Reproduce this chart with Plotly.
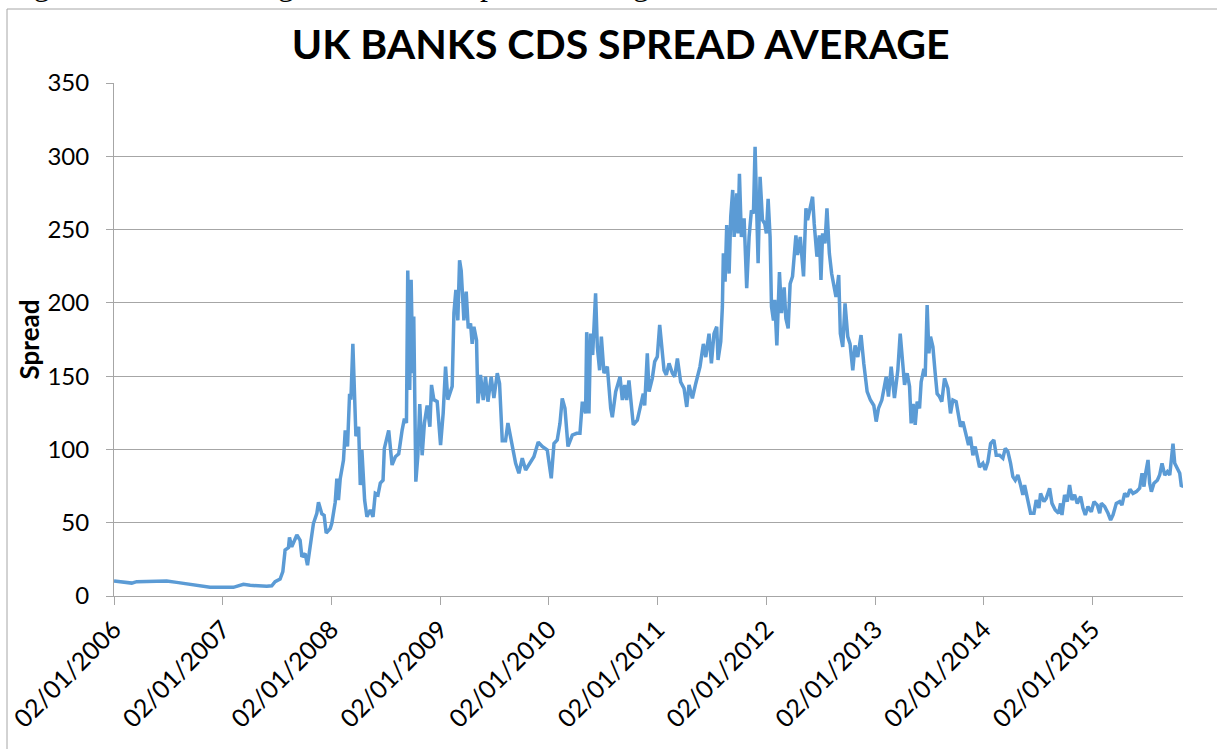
import pandas as pd
import plotly.graph_objects as go

# ---- data (decimal years measured from 2 Jan, CDS spread in bp) ----
years_2006_2009 = [
    2006.000, 2006.163, 2006.209, 2006.485, 2006.577, 2006.700, 2006.792, 2006.884, 2007.099, 2007.191,
    2007.253, 2007.406, 2007.452, 2007.483, 2007.529, 2007.554, 2007.575, 2007.606, 2007.615, 2007.636,
    2007.683, 2007.713, 2007.729, 2007.759, 2007.781, 2007.799, 2007.836, 2007.867, 2007.882, 2007.913,
    2007.934, 2007.953, 2007.990, 2008.005, 2008.036, 2008.051, 2008.066, 2008.082, 2008.112, 2008.128,
    2008.149, 2008.168, 2008.180, 2008.198, 2008.211, 2008.226, 2008.251, 2008.266, 2008.281, 2008.306,
    2008.327, 2008.358, 2008.383, 2008.404, 2008.429, 2008.450, 2008.475, 2008.487, 2008.527, 2008.542,
    2008.558, 2008.588, 2008.619, 2008.650, 2008.671, 2008.690, 2008.702, 2008.720, 2008.733, 2008.748,
    2008.757, 2008.776, 2008.794, 2008.812, 2008.834, 2008.855, 2008.880, 2008.905, 2008.920, 2008.941,
    2008.972, 2009.003, 2009.027, 2009.049, 2009.070, 2009.110, 2009.126, 2009.144, 2009.162, 2009.178,
    2009.193, 2009.218, 2009.239, 2009.258, 2009.279, 2009.294, 2009.310, 2009.334, 2009.347, 2009.371,
    2009.396, 2009.417, 2009.439, 2009.469, 2009.494, 2009.525, 2009.546,
]
spread_2006_2009 = [
    10.2, 8.8, 9.8, 10.2, 9.3, 7.8, 7.0, 6.0, 5.9, 8.0,
    7.3, 6.6, 7.0, 9.8, 11.6, 16.6, 31.4, 33.0, 40.0, 33.6,
    41.6, 38.0, 26.8, 29.0, 21.0, 31.0, 49.6, 56.4, 64.0, 56.0,
    55.0, 43.0, 46.0, 49.6, 64.0, 80.0, 65.5, 80.0, 92.8, 113.0,
    102.0, 138.0, 134.0, 172.0, 145.0, 109.0, 115.5, 75.7, 99.6, 65.5,
    54.0, 58.7, 54.0, 70.0, 69.0, 77.0, 79.0, 100.7, 113.0, 103.0,
    89.4, 95.0, 97.0, 113.0, 121.0, 118.0, 222.0, 140.5, 215.7, 152.0,
    190.6, 78.0, 95.0, 131.0, 96.0, 118.0, 130.0, 115.5, 144.0, 134.0,
    132.6, 103.0, 124.6, 156.5, 134.0, 143.0, 193.0, 208.8, 188.0, 229.0,
    222.0, 188.0, 207.6, 182.6, 186.0, 172.0, 183.7, 174.6, 131.4, 150.8,
    133.7, 149.6, 132.6, 149.6, 135.0, 152.0, 145.0,
]

years_2009_2011 = [
    2009.571, 2009.601, 2009.623, 2009.663, 2009.694, 2009.724, 2009.755, 2009.786, 2009.832, 2009.862,
    2009.902, 2009.939, 2009.985, 2010.022, 2010.047, 2010.077, 2010.102, 2010.123, 2010.148, 2010.176,
    2010.216, 2010.255, 2010.286, 2010.308, 2010.338, 2010.348, 2010.369, 2010.384, 2010.403, 2010.430,
    2010.446, 2010.467, 2010.483, 2010.507, 2010.538, 2010.569, 2010.584, 2010.615, 2010.655, 2010.676,
    2010.698, 2010.716, 2010.737, 2010.777, 2010.814, 2010.845, 2010.869, 2010.882, 2010.906, 2010.922,
    2010.952, 2010.974, 2010.998, 2011.020, 2011.038, 2011.060, 2011.081, 2011.106, 2011.137, 2011.158,
    2011.183, 2011.213, 2011.244, 2011.269, 2011.290, 2011.321, 2011.352, 2011.391, 2011.422, 2011.444,
    2011.474, 2011.496, 2011.520, 2011.545, 2011.557, 2011.582, 2011.597,
]
spread_2009_2011 = [
    106, 106, 118, 102, 90.5, 83.7, 94, 86, 91.6, 95,
    105, 102, 99.6, 80.3, 104, 106.4, 117.8, 134.8, 128, 102,
    109.8, 111, 111, 132.6, 124.6, 180, 124.6, 179, 164.4, 206.5,
    170, 154, 177, 152, 156.5, 128, 122, 139.4, 149.6, 133.7,
    144, 133.7, 147, 116.7, 120, 130, 138, 130, 165.5, 139.4,
    148.5, 159.9, 163.3, 184.9, 172, 154, 150.8, 158.7, 152, 149.6,
    162, 146, 141.7, 129, 144, 134.8, 145, 156.5, 172, 163,
    179, 158.7, 179, 183.7, 161, 173.5, 197.4,
]

years_2011_2013 = [
    2011.606, 2011.622, 2011.637, 2011.659, 2011.674, 2011.692, 2011.705, 2011.729, 2011.741, 2011.754,
    2011.772, 2011.797, 2011.821, 2011.843, 2011.864, 2011.883, 2011.898, 2011.913, 2011.926, 2011.944,
    2011.966, 2011.987, 2012.002, 2012.018, 2012.036, 2012.049, 2012.067, 2012.079, 2012.098, 2012.122,
    2012.141, 2012.165, 2012.181, 2012.202, 2012.220, 2012.242, 2012.273, 2012.288, 2012.313, 2012.343,
    2012.365, 2012.380, 2012.405, 2012.426, 2012.441, 2012.466, 2012.488, 2012.503, 2012.518, 2012.540,
    2012.558, 2012.580, 2012.601, 2012.620, 2012.641, 2012.666, 2012.681, 2012.703, 2012.724, 2012.749,
    2012.770, 2012.795, 2012.816, 2012.841, 2012.871, 2012.896, 2012.927, 2012.957, 2012.988, 2013.010,
    2013.031, 2013.062, 2013.102, 2013.123, 2013.148, 2013.178, 2013.209, 2013.231,
]
spread_2011_2013 = [
    233.8, 214.4, 253, 220, 258.8, 277, 245, 274.7, 247.4, 288,
    245, 257.6, 210, 245, 263, 261, 306.5, 263, 227, 286,
    256.5, 254, 247.4, 271, 245, 197.4, 188, 202, 171, 221,
    193, 210.6, 189.4, 182.6, 213, 218, 246, 232.6, 245, 218,
    264.5, 256.5, 266.7, 272.4, 254, 231.5, 246, 215.6, 247.4, 240.6,
    264.5, 233.8, 220, 213, 204, 219, 179, 170, 199.6, 177,
    172, 154, 171, 163, 178, 158.7, 139.4, 133.7, 130, 119,
    128, 133.7, 149.6, 136, 156.5, 135, 154, 179,
]

years_2013_2015 = [
    2013.255, 2013.271, 2013.295, 2013.317, 2013.332, 2013.350, 2013.369, 2013.387, 2013.409, 2013.424,
    2013.449, 2013.461, 2013.479, 2013.495, 2013.510, 2013.532, 2013.553, 2013.571, 2013.593, 2013.614,
    2013.639, 2013.670, 2013.694, 2013.716, 2013.746, 2013.762, 2013.786, 2013.808, 2013.839, 2013.860,
    2013.878, 2013.900, 2013.921, 2013.940, 2013.961, 2013.992, 2014.014, 2014.038, 2014.063, 2014.093,
    2014.115, 2014.146, 2014.176, 2014.198, 2014.222, 2014.247, 2014.268, 2014.290, 2014.314, 2014.339,
    2014.360, 2014.376, 2014.391, 2014.407, 2014.431, 2014.462, 2014.483, 2014.508, 2014.523, 2014.554,
    2014.575, 2014.606, 2014.628, 2014.658, 2014.689, 2014.707, 2014.720, 2014.744, 2014.769, 2014.790,
    2014.812, 2014.836, 2014.861, 2014.892, 2014.913, 2014.935, 2014.959, 2014.990, 2015.015, 2015.045,
    2015.067, 2015.082, 2015.113, 2015.144, 2015.168, 2015.190, 2015.220, 2015.251, 2015.272, 2015.297,
    2015.322, 2015.346, 2015.374, 2015.405, 2015.435, 2015.457, 2015.475, 2015.490, 2015.512, 2015.527,
    2015.543, 2015.567, 2015.598, 2015.619, 2015.641, 2015.666, 2015.690, 2015.712, 2015.733, 2015.742,
    2015.758, 2015.782, 2015.804, 2015.819, 2015.834,
]
spread_2013_2015 = [
    158.7, 144, 152, 143, 117.8, 131, 116.7, 132.6, 128, 146,
    155, 149.6, 198.5, 165.5, 177, 170, 152, 138, 136, 132.6,
    148.5, 141.7, 124.6, 133.7, 132.6, 124.6, 115.5, 119, 108.7, 103,
    108.7, 96, 102, 95, 88, 90.5, 86, 91.6, 104, 106.4,
    96, 96, 94, 100.7, 98.5, 90.5, 81.4, 79, 82.5, 75.7,
    69, 75.7, 70, 65.5, 56.4, 56.4, 65.5, 60, 70, 64.4,
    66.6, 73.5, 63.2, 58.7, 56.4, 63.2, 55.3, 69, 64.4, 75.7,
    65.5, 69, 63.2, 67.8, 60, 55.3, 61, 57.5, 64.4, 62,
    56.4, 63.2, 61, 56.4, 51.8, 55.3, 63.2, 64.4, 62, 70,
    67.8, 72.8, 70, 71.2, 73.5, 83.7, 74.6, 83.7, 92.8, 76.9,
    71.2, 76.9, 79, 82.5, 90.5, 82.5, 84.8, 82.5, 97.3, 104,
    90.5, 87, 83.7, 74.6, 75.7,
]

tick_dates = ["2006-01-02", "2007-01-02", "2008-01-02", "2009-01-02", "2010-01-02",
              "2011-01-02", "2012-01-02", "2013-01-02", "2014-01-02", "2015-01-02"]
tick_labels = ["02/01/2006", "02/01/2007", "02/01/2008", "02/01/2009", "02/01/2010",
               "02/01/2011", "02/01/2012", "02/01/2013", "02/01/2014", "02/01/2015"]
y_ticks = [0, 50, 100, 150, 200, 250, 300, 350]

years = years_2006_2009 + years_2009_2011 + years_2011_2013 + years_2013_2015
spread = spread_2006_2009 + spread_2009_2011 + spread_2011_2013 + spread_2013_2015
assert len(years) == len(spread)


def to_date(y):
    yr = int(y)
    start = pd.Timestamp(yr, 1, 2)
    end = pd.Timestamp(yr + 1, 1, 2)
    return start + (end - start) * (y - yr)


dates = [to_date(y) for y in years]

FONT = "Lato"
GRID = "#a6a6a6"

fig = go.Figure()
fig.add_trace(go.Scatter(
    x=dates, y=spread, mode="lines",
    line=dict(color="#5b9bd5", width=3.5),
    name="UK banks CDS spread average",
    hovertemplate="%{x|%d/%m/%Y}: %{y:.1f}<extra></extra>",
))

fig.update_layout(
    width=1217, height=749,
    margin=dict(l=114, r=34, t=83, b=153, autoexpand=False),
    paper_bgcolor="white", plot_bgcolor="white",
    showlegend=False,
    title=dict(
        text="UK BANKS CDS SPREAD AVERAGE",
        font=dict(family=FONT, size=41, color="black", weight="bold"),
        x=0.51, xref="container", xanchor="center",
        y=1 - 45 / 749, yref="container", yanchor="middle",
    ),
    xaxis=dict(
        type="date", automargin=False,
        range=[pd.Timestamp("2006-01-02"), dates[-1]],
        tickvals=tick_dates, ticktext=tick_labels,
        tickangle=-45,
        tickfont=dict(family=FONT, size=25, color="black"),
        ticks="outside", ticklen=8, tickcolor=GRID, tickwidth=1,
        showline=True, linecolor=GRID, linewidth=1,
        showgrid=False, zeroline=False,
    ),
    yaxis=dict(
        automargin=False,
        range=[0, 350], tickvals=y_ticks,
        tickfont=dict(family=FONT, size=24, color="black"),
        ticks="outside", ticklen=7, tickcolor=GRID, tickwidth=1,
        ticklabelstandoff=12,
        showline=True, linecolor=GRID, linewidth=1,
        showgrid=True, gridcolor=GRID, gridwidth=1,
        zeroline=False,
        title=dict(text="Spread", font=dict(family=FONT, size=26, color="black", weight="bold"),
                   standoff=0),
    ),
    shapes=[dict(
        type="rect", xref="paper", yref="paper",
        x0=(7 - 114) / 1069, x1=1.2, y0=-0.5, y1=(596 - 9) / 513,
        line=dict(color=GRID, width=1), fillcolor="rgba(0,0,0,0)", layer="below",
    )],
    annotations=[dict(
        text="Figure 1: UK Banking Sector CDS Spread Average",
        xref="paper", yref="paper",
        x=(5 - 114) / 1069, xanchor="left",
        y=(596 + 16) / 513, yanchor="middle",
        showarrow=False,
        font=dict(family="Liberation Serif", size=32, color="black"),
    )],
)

fig.write_html("out.html", config={"displayModeBar": False},
               post_script="document.body.style.margin='0';")
